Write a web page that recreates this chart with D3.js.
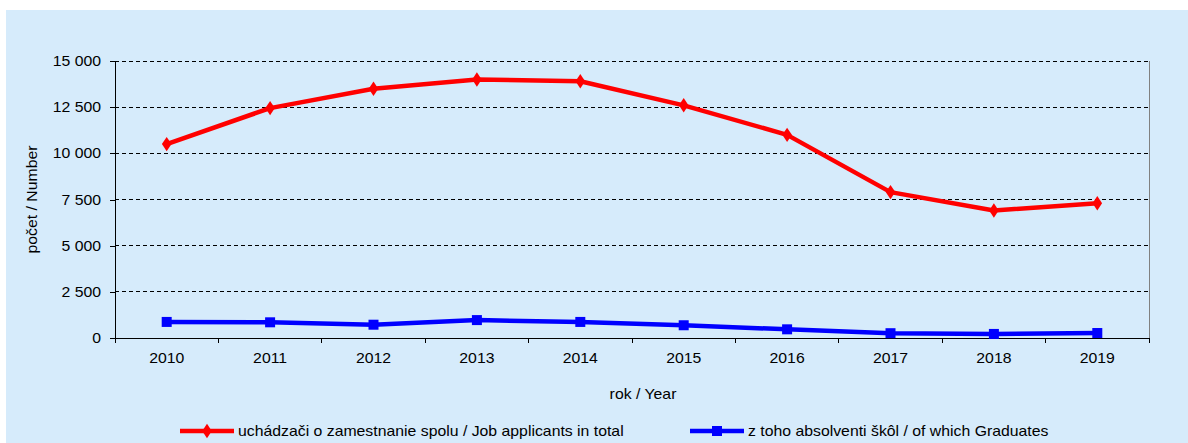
<!DOCTYPE html>
<html>
<head>
<meta charset="utf-8">
<script src="https://cdn.jsdelivr.net/npm/d3@7"></script>
<style>
  body { margin: 0; background: #fff; }
  svg { display: block; font-family: "Liberation Sans", Arial, sans-serif; }
</style>
</head>
<body>
<div id="chart"></div>
<script>
// data
const years = ["2010", "2011", "2012", "2013", "2014", "2015", "2016", "2017", "2018", "2019"];
const applicants = [10500, 12450, 13500, 14000, 13900, 12600, 11000, 7900, 6900, 7300];
const graduates = [870, 850, 720, 970, 870, 690, 470, 260, 220, 270];
const yTicks = [0, 2500, 5000, 7500, 10000, 12500, 15000];
const seriesNames = ["uchádzači o zamestnanie spolu / Job applicants in total", "z toho absolventi škôl / of which Graduates"];

const width = 1188, height = 443;
const margin = {top: 61, right: 39, bottom: 105, left: 115};
const plotW = width - margin.left - margin.right,
      plotH = height - margin.top - margin.bottom;

// the original text is a bit wider than plain Arial
const fontSize = 14, stretch = 1.13;

const svg = d3.select("#chart").append("svg")
  .attr("width", width)
  .attr("height", height);

function label(parent, x, y, txt, anchor) {
  return parent.append("text")
    .attr("transform", `translate(${x}, ${y}) scale(${stretch}, 1)`)
    .attr("text-anchor", anchor || "start")
    .attr("font-size", fontSize)
    .attr("fill", "#000")
    .text(txt);
}

// background panel
svg.append("rect")
  .attr("x", 6).attr("y", 10)
  .attr("width", width - 6).attr("height", height - 10)
  .attr("fill", "#d6ebfb");

const g = svg.append("g")
  .attr("transform", `translate(${margin.left}, ${margin.top})`);

const xScale = d3.scaleBand().domain(years).range([0, plotW]);
const yScale = d3.scaleLinear().domain([0, 15000]).range([plotH, 0]);

const fmt = v => d3.format(",")(v).replace(/,/g, " ");

// gridlines
g.selectAll(".grid")
  .data(yTicks.filter(d => d > 0))
  .enter().append("line")
  .attr("x1", 0).attr("x2", plotW)
  .attr("y1", d => yScale(d)).attr("y2", d => yScale(d))
  .attr("stroke", "#000")
  .attr("stroke-width", 1)
  .attr("stroke-dasharray", "4,3")
  .attr("shape-rendering", "crispEdges");

// right border
g.append("line")
  .attr("x1", plotW).attr("x2", plotW)
  .attr("y1", 0).attr("y2", plotH + 5)
  .attr("stroke", "#808080")
  .attr("shape-rendering", "crispEdges");

// y axis
const yAxis = d3.axisLeft(yScale).tickValues(yTicks).tickSize(5).tickFormat("");
const yAxisG = g.append("g").call(yAxis);
yAxisG.select(".domain").attr("stroke", "#000");
yAxisG.attr("shape-rendering", "crispEdges");
yTicks.forEach(t => label(g, -14, yScale(t) + 5, fmt(t), "end"));

// x axis: ticks between categories
const xAxisG = g.append("g").attr("transform", `translate(0, ${plotH})`);
xAxisG.append("line")
  .attr("x1", 0).attr("x2", plotW).attr("y1", 0).attr("y2", 0)
  .attr("stroke", "#000").attr("shape-rendering", "crispEdges");
xAxisG.selectAll(".tk")
  .data(years.concat(["end"]))
  .enter().append("line")
  .attr("x1", (d, i) => i * xScale.step())
  .attr("x2", (d, i) => i * xScale.step())
  .attr("y1", 0).attr("y2", 5)
  .attr("stroke", "#000").attr("shape-rendering", "crispEdges");
years.forEach(y => label(xAxisG, xScale(y) + xScale.bandwidth() / 2, 25, y, "middle"));

// axis titles
label(svg, 643, 399, "rok / Year", "middle");

svg.append("text")
  .attr("transform", `translate(37, ${margin.top + plotH / 2}) rotate(-90) scale(${stretch}, 1)`)
  .attr("text-anchor", "middle")
  .attr("font-size", fontSize)
  .text("počet / Number");

// lines
const cx = d => xScale(d) + xScale.bandwidth() / 2;
const line = d3.line().x((d, i) => cx(years[i])).y(d => yScale(d));

g.append("path")
  .datum(applicants)
  .attr("d", line)
  .attr("fill", "none")
  .attr("stroke", "#ff0000")
  .attr("stroke-width", 4.5)
  .attr("stroke-linejoin", "round");

g.append("path")
  .datum(graduates)
  .attr("d", line)
  .attr("fill", "none")
  .attr("stroke", "#0000ff")
  .attr("stroke-width", 4.5)
  .attr("stroke-linejoin", "round");

const diamond = d3.symbol().type(d3.symbolDiamond).size(60);
g.selectAll(".redPt")
  .data(applicants)
  .enter().append("path")
  .attr("d", diamond)
  .attr("transform", (d, i) => `translate(${cx(years[i])}, ${yScale(d)}) scale(1.15, 1)`)
  .attr("fill", "#ff0000");

g.selectAll(".bluePt")
  .data(graduates)
  .enter().append("rect")
  .attr("x", (d, i) => cx(years[i]) - 5)
  .attr("y", d => yScale(d) - 5)
  .attr("width", 10).attr("height", 10)
  .attr("fill", "#0000ff");

// legend
const legend = svg.append("g").attr("transform", "translate(0, 431)");
const legItems = [
  {x: 180, color: "#ff0000", marker: "diamond", name: seriesNames[0]},
  {x: 690, color: "#0000ff", marker: "square", name: seriesNames[1]}
];
legItems.forEach(it => {
  legend.append("line")
    .attr("x1", it.x).attr("x2", it.x + 54)
    .attr("y1", 0).attr("y2", 0)
    .attr("stroke", it.color).attr("stroke-width", 4.5);
  if (it.marker === "diamond") {
    legend.append("path").attr("d", diamond)
      .attr("transform", `translate(${it.x + 27}, 0) scale(1.15, 1)`)
      .attr("fill", it.color);
  } else {
    legend.append("rect")
      .attr("x", it.x + 22).attr("y", -5)
      .attr("width", 10).attr("height", 10)
      .attr("fill", it.color);
  }
  label(legend, it.x + 58, 5, it.name);
});
</script>
</body>
</html>
